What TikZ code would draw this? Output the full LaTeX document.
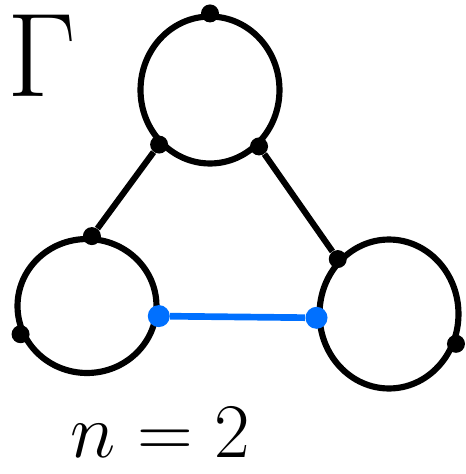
\RequirePackage{fix-cm}
\documentclass[tikz,border=0pt]{standalone}
\usepackage{tikz}
\usetikzlibrary{shapes.geometric,positioning}
\definecolor{edgeBlue}{RGB}{0,112,255}

\begin{document}
\begin{tikzpicture}[x=0.02cm, y=-0.02cm,
  loopbox/.style={ellipse, draw=black, line width=3.5pt,
                  minimum width=#1},
  vtx/.style={circle, fill=black, inner sep=0pt, minimum size=0.36cm},
  bvtx/.style={circle, fill=edgeBlue, inner sep=0pt, minimum size=0.44cm},
  arr/.style={line width=3.5pt, black},
  barr/.style={line width=3.8pt, edgeBlue},
  lbl/.style={inner sep=0pt, font=\fontsize{#1}{#1}\selectfont}
]
  \useasboundingbox (0,0) rectangle (466,474);
  % the three loops
  \node[loopbox=2.78cm, minimum height=2.94cm] (T) at (210,90) {};
  \node[loopbox=2.78cm, minimum height=2.68cm] (L) at (87,306) {};
  \node[loopbox=2.78cm, minimum height=2.98cm] (R) at (389,314) {};
  % vertices
  \node[vtx] (t1) at (T.90)  {};
  \node[vtx] (t2) at (T.227) {};
  \node[vtx] (t3) at (T.311) {};
  \node[vtx] (l1) at (L.86)  {};
  \node[vtx] (l2) at (L.203) {};
  \node[vtx] (r1) at (R.133) {};
  \node[vtx] (r2) at (R.336) {};
  \draw[arr] (t2) -- (l1);
  \draw[arr] (t3) -- (r1);
  \node[bvtx] (lb) at (L.352) {};
  \node[bvtx] (rb) at (R.183) {};
  \draw[barr] (lb) -- (rb);
  % labels
  \node[lbl=68] (gam) at (42,56) {$\Gamma$};
  \node[lbl=44] (cnt) at (160,433) {$n=2$};
\end{tikzpicture}
\end{document}
